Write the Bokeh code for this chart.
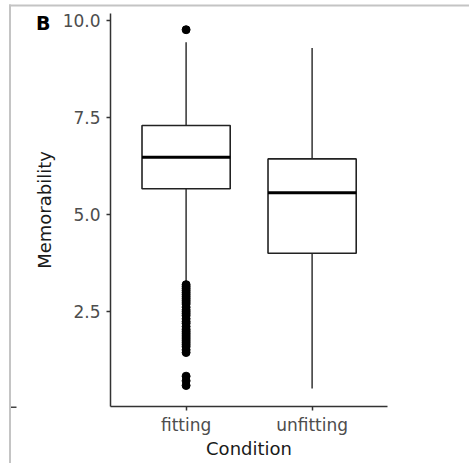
from bokeh.plotting import figure
from bokeh.models import Range1d, FixedTicker, Label, BoxAnnotation
from bokeh.embed import file_html
from bokeh.resources import INLINE

# ---- data ----
conditions = ["fitting", "unfitting"]
q1 = [5.67, 4.01]
medians = [6.48, 5.57]
q3 = [7.30, 6.44]
whisker_low = [3.25, 0.52]
whisker_high = [9.45, 9.30]
fitting_outliers = [9.77,
                    3.20, 3.15, 3.10, 3.05, 3.00, 2.95, 2.90, 2.85, 2.80, 2.75,
                    2.70, 2.62, 2.55, 2.50, 2.45, 2.40, 2.32, 2.25, 2.20, 2.12,
                    2.05, 2.00, 1.95, 1.90, 1.85, 1.80, 1.75, 1.70, 1.65, 1.60,
                    1.52, 1.45, 0.84, 0.72, 0.60]
y_ticks = [2.5, 5.0, 7.5, 10.0]
y_tick_labels = ["2.5", "5.0", "7.5", "10.0"]
panel_tag = "B"
x_title = "Condition"
y_title = "Memorability"

FONT = "DejaVu Sans"
W, H = 469, 463

# category positions on a linear scale (ggplot-style discrete axis)
x_pos = [i + 1 for i in range(len(conditions))]
x_axis_bounds = (0.4, len(conditions) + 0.6)
y_axis_bounds = (0.06, 10.2)

p = figure(width=W, height=H,
           x_range=Range1d(-0.473, 3.249),
           y_range=Range1d(-1.410, 10.523),
           output_backend="svg", toolbar_location=None,
           min_border_left=0, min_border_right=0,
           min_border_top=0, min_border_bottom=0)

p.background_fill_color = "white"
p.border_fill_color = "white"
p.outline_line_color = None
p.xgrid.grid_line_color = None
p.ygrid.grid_line_color = None

# whiskers
p.segment(x0=x_pos, y0=q3, x1=x_pos, y1=whisker_high,
          line_color="#333333", line_width=1.5)
p.segment(x0=x_pos, y0=q1, x1=x_pos, y1=whisker_low,
          line_color="#333333", line_width=1.5)
# boxes
p.vbar(x=x_pos, width=0.7, bottom=q1, top=q3,
       fill_color="white", line_color="#222222", line_width=1.6)
# medians
p.vbar(x=x_pos, width=0.7, bottom=medians, top=medians,
       fill_color=None, line_color="black", line_width=3)
# outliers
p.scatter(x=[x_pos[0]] * len(fitting_outliers), y=fitting_outliers,
          size=8, fill_color="black", line_color="black")

# axes (drawn at fixed positions inside the canvas)
for ax in (p.xaxis[0], p.yaxis[0]):
    ax.axis_line_color = "#333333"
    ax.axis_line_width = 1.5
    ax.major_tick_line_color = "#333333"
    ax.major_tick_line_width = 1.5
    ax.major_tick_out = 4
    ax.major_tick_in = 0
    ax.minor_tick_line_color = None
    ax.major_label_text_font = FONT
    ax.major_label_text_font_size = "17px"
    ax.major_label_text_color = "#4d4d4d"
    ax.axis_label_text_font = FONT
    ax.axis_label_text_font_size = "18px"
    ax.axis_label_text_font_style = "normal"
    ax.axis_label_text_color = "#1a1a1a"

yax = p.yaxis[0]
yax.fixed_location = x_axis_bounds[0]
yax.bounds = y_axis_bounds
yax.ticker = FixedTicker(ticks=y_ticks)
yax.major_label_overrides = {t: s for t, s in zip(y_ticks, y_tick_labels)}
yax.major_label_standoff = 6
yax.axis_label = y_title
yax.axis_label_standoff = 5

xax = p.xaxis[0]
xax.fixed_location = y_axis_bounds[0]
xax.bounds = x_axis_bounds
xax.ticker = FixedTicker(ticks=x_pos)
xax.major_label_overrides = {x: c for x, c in zip(x_pos, conditions)}
xax.major_label_standoff = 5
xax.axis_label = x_title
xax.axis_label_standoff = -1

# panel tag
p.add_layout(Label(x=35.5, y=H - 22.5, x_units="screen", y_units="screen",
                   text=panel_tag, text_font=FONT, text_font_size="19px",
                   text_font_style="bold", text_color="black",
                   text_baseline="alphabetic", text_align="left"))

# page-crop decorations (gray border lines, stray tick)
def screen_box(left, right, top, bottom, color):
    return BoxAnnotation(left=left, right=right, top=H - top, bottom=H - bottom,
                         left_units="screen", right_units="screen",
                         top_units="screen", bottom_units="screen",
                         fill_color=color, fill_alpha=1, line_color=None)

p.add_layout(screen_box(8.5, W, 4, 6, "#c4c4c4"))
p.add_layout(screen_box(8.5, 10.5, 4, H, "#c4c4c4"))
p.add_layout(screen_box(10.5, 16, 406, 407.5, "#444444"))

open("out.html", "w").write(file_html(p, INLINE))
